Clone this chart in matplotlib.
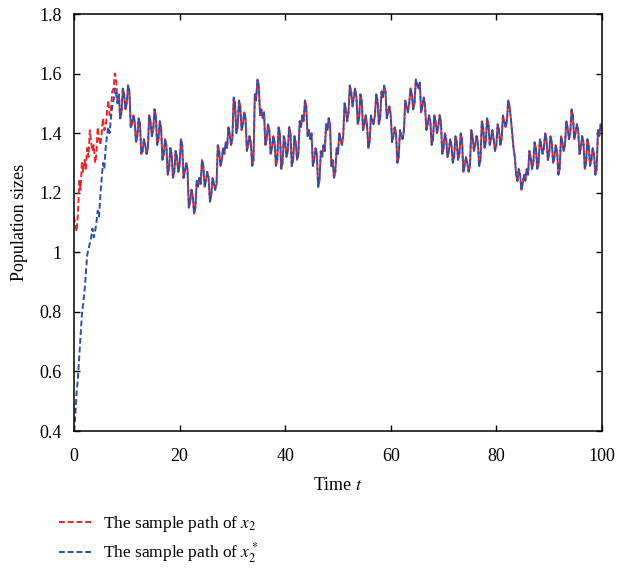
import numpy as np
import matplotlib
matplotlib.use("Agg")
import matplotlib.pyplot as plt

plt.rcParams['font.family'] = ['Liberation Serif', 'DejaVu Serif']
plt.rcParams['mathtext.fontset'] = 'stix'

# time grid (step 0.25)
t = np.arange(0, 100.01, 0.25)

# early part of the paths, t = 0 .. 8.25
x2_start = [1.12, 1.09, 1.07, 1.13, 1.24, 1.21, 1.30, 1.27, 1.31, 1.28,
            1.35, 1.32, 1.41, 1.37, 1.34, 1.36, 1.30, 1.33, 1.42, 1.38,
            1.36, 1.40, 1.45, 1.41, 1.42, 1.47, 1.51, 1.46, 1.48, 1.54,
            1.55, 1.60, 1.58, 1.50]
x2star_start = [0.40, 0.45, 0.53, 0.58, 0.65, 0.72, 0.79, 0.83, 0.87, 0.93,
                0.99, 1.01, 1.03, 1.05, 1.08, 1.05, 1.07, 1.10, 1.14, 1.12,
                1.19, 1.25, 1.30, 1.28, 1.35, 1.39, 1.42, 1.40, 1.45, 1.49,
                1.51, 1.55, 1.53, 1.50]

# common part after the two paths merge, t = 8.5 .. 100
shared = [
    # 8.5 - 20
    1.53, 1.45, 1.47, 1.55, 1.53, 1.48, 1.50, 1.56, 1.54, 1.42, 1.43, 1.46,
    1.44, 1.37, 1.39, 1.45, 1.43, 1.33, 1.34, 1.38, 1.36, 1.33, 1.35, 1.46,
    1.44, 1.39, 1.41, 1.48, 1.46, 1.36, 1.38, 1.44, 1.42, 1.31, 1.33, 1.38,
    1.36, 1.26, 1.28, 1.35, 1.33, 1.25, 1.27, 1.34, 1.32, 1.27, 1.29,
    1.38,
    # 20.5 - 30
    1.36, 1.25, 1.27, 1.30, 1.28, 1.15, 1.17, 1.21, 1.19, 1.13,
    1.15, 1.24, 1.22, 1.25, 1.23, 1.31, 1.29, 1.22, 1.24, 1.27,
    1.25, 1.17, 1.19, 1.25, 1.23, 1.21, 1.23, 1.36, 1.34, 1.29,
    1.31, 1.35, 1.33, 1.37, 1.35, 1.42, 1.40, 1.36, 1.38,
    1.52,
    # 30.5 - 40
    1.50, 1.40, 1.42, 1.51, 1.49, 1.41, 1.43, 1.47, 1.45, 1.34,
    1.36, 1.39, 1.37, 1.29, 1.31, 1.53, 1.51, 1.58, 1.56, 1.46,
    1.48, 1.45, 1.47, 1.36, 1.38, 1.43, 1.41, 1.33, 1.35, 1.39,
    1.37, 1.29, 1.31, 1.42, 1.40, 1.28, 1.30, 1.39, 1.37,
    1.32,
    # 40.5 - 50
    1.34, 1.42, 1.40, 1.29, 1.31, 1.39, 1.37, 1.31, 1.33, 1.44,
    1.42, 1.46, 1.44, 1.51, 1.49, 1.39, 1.41, 1.38, 1.40, 1.29,
    1.31, 1.35, 1.33, 1.22, 1.24, 1.34, 1.32, 1.36, 1.34, 1.43,
    1.41, 1.45, 1.43, 1.29, 1.31, 1.25, 1.27, 1.35, 1.33,
    1.40,
    # 50.5 - 60
    1.38, 1.36, 1.39, 1.50, 1.48, 1.44, 1.47, 1.56, 1.54, 1.49,
    1.52, 1.55, 1.52, 1.43, 1.45, 1.53, 1.51, 1.41, 1.43, 1.46,
    1.43, 1.35, 1.37, 1.46, 1.44, 1.43, 1.46, 1.53, 1.51, 1.43,
    1.45, 1.54, 1.52, 1.56, 1.54, 1.45, 1.47, 1.49, 1.46,
    1.37,
    # 60.5 - 70
    1.39, 1.42, 1.40, 1.30, 1.32, 1.41, 1.39, 1.38, 1.41, 1.51,
    1.49, 1.47, 1.50, 1.55, 1.53, 1.48, 1.50, 1.58, 1.56, 1.55,
    1.57, 1.47, 1.49, 1.52, 1.49, 1.41, 1.43, 1.46, 1.44, 1.36,
    1.38, 1.46, 1.44, 1.40, 1.42, 1.46, 1.44, 1.33, 1.35,
    1.40,
    # 70.5 - 80
    1.38, 1.32, 1.34, 1.38, 1.36, 1.30, 1.32, 1.39, 1.37, 1.31,
    1.33, 1.40, 1.38, 1.27, 1.29, 1.32, 1.30, 1.27, 1.29, 1.41,
    1.39, 1.34, 1.36, 1.39, 1.37, 1.29, 1.31, 1.44, 1.42, 1.35,
    1.37, 1.45, 1.43, 1.36, 1.38, 1.41, 1.38, 1.34, 1.36,
    1.43,
    # 80.5 - 90
    1.41, 1.36, 1.38, 1.46, 1.44, 1.42, 1.44, 1.51, 1.49, 1.45,
    1.40, 1.35, 1.32, 1.26, 1.24, 1.28, 1.26, 1.21, 1.23, 1.26,
    1.24, 1.28, 1.26, 1.34, 1.32, 1.28, 1.30, 1.37, 1.35, 1.28,
    1.30, 1.38, 1.36, 1.33, 1.35, 1.40, 1.38, 1.31, 1.33,
    1.39,
    # 90.5 - 100
    1.37, 1.30, 1.32, 1.36, 1.34, 1.26, 1.28, 1.39, 1.37, 1.34,
    1.36, 1.44, 1.42, 1.38, 1.40, 1.48, 1.46, 1.38, 1.40, 1.43,
    1.41, 1.33, 1.35, 1.39, 1.37, 1.28, 1.30, 1.38, 1.36, 1.29,
    1.31, 1.35, 1.33, 1.26, 1.28, 1.41, 1.39, 1.43, 1.41,
]

x2 = np.array(x2_start + shared)
x2star = np.array(x2star_start + shared)

xticks = [0, 20, 40, 60, 80, 100]
yticks = [0.4, 0.6, 0.8, 1.0, 1.2, 1.4, 1.6, 1.8]
ytick_labels = ['0.4', '0.6', '0.8', '1', '1.2', '1.4', '1.6', '1.8']

fig = plt.figure(figsize=(6.18, 5.74), dpi=100)
ax = fig.add_axes([0.1197, 0.249, 0.8543, 0.7266])

red = '#e8262a'
blue = '#2e4fa8'
l1, = ax.plot(t, x2, color=red, lw=1.4, ls=(0, (3, 1.5)),
              label=r'The sample path of $x_2$')
l2, = ax.plot(t, x2star, color=blue, lw=1.4, ls=(0, (3, 1.5)),
              label=r'The sample path of $x_2^*$')

ax.set_xlim(0, 100)
ax.set_ylim(0.4, 1.8)
ax.set_xticks(xticks)
ax.set_yticks(yticks)
ax.set_yticklabels(ytick_labels)
ax.tick_params(direction='in', length=4.5, width=1.0, labelsize=13,
               top=True, right=True)
ax.tick_params(axis='x', pad=12)
ax.tick_params(axis='y', pad=9)
for s in ax.spines.values():
    s.set_linewidth(1.1)

ax.set_xlabel(r'Time $t$', fontsize=13, labelpad=9)
ax.set_ylabel('Population sizes', fontsize=13, labelpad=8)

fig.legend(handles=[l1, l2], loc='upper left', bbox_to_anchor=(0.085, 0.116),
           frameon=False, fontsize=12.5, handlelength=1.8, handletextpad=0.7,
           labelspacing=0.35, borderaxespad=0)

fig.savefig('out.png', dpi=100)
